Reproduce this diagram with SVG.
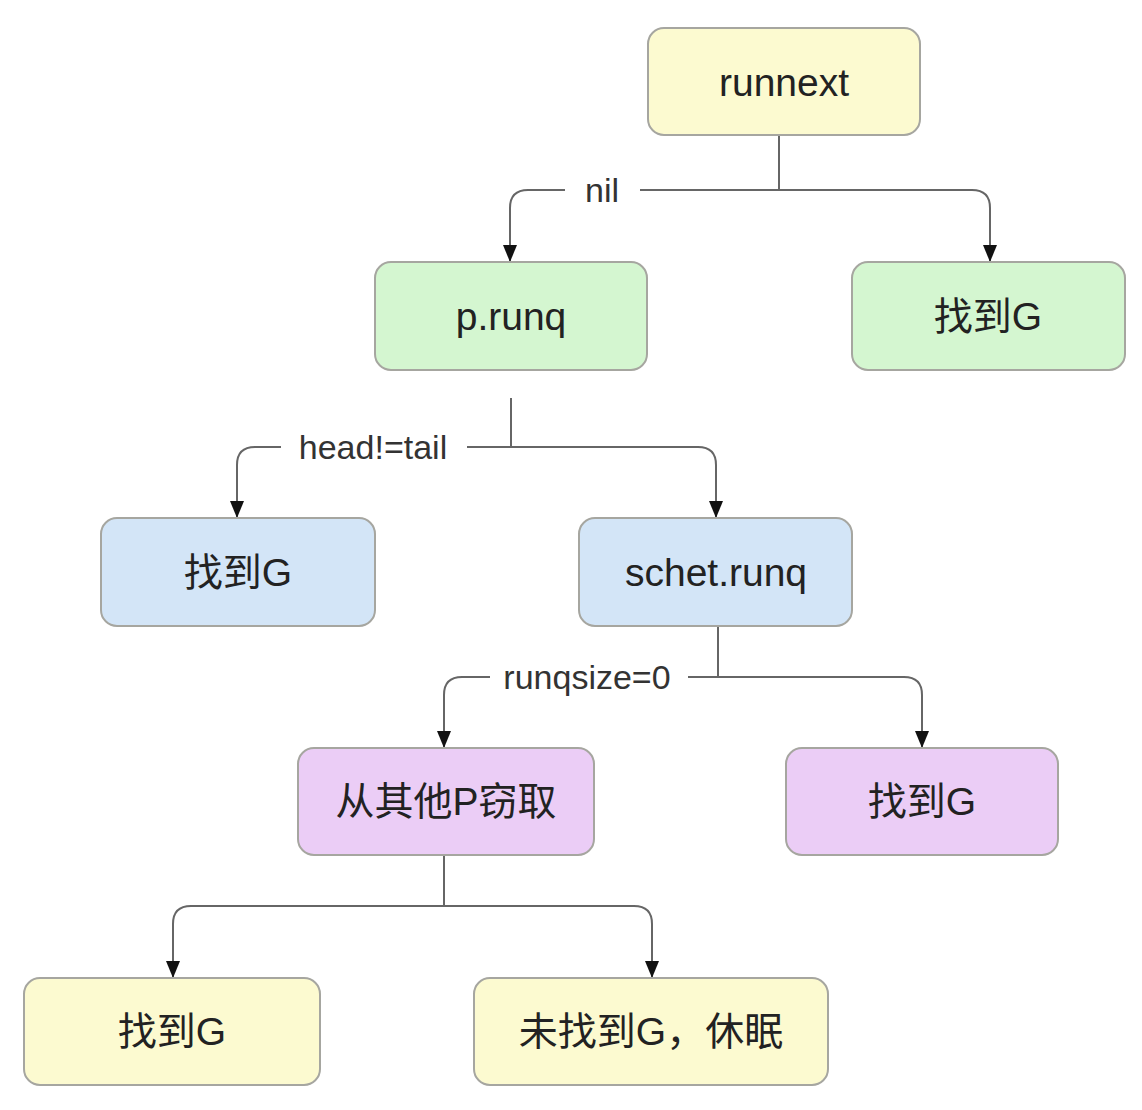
<svg xmlns="http://www.w3.org/2000/svg" width="1142" height="1110" viewBox="0 0 1142 1110">
<defs>
<style>
.box{stroke:#a6a6a0;stroke-width:2}
.yellow{fill:#fcfad0}
.green{fill:#d4f6d0}
.blue{fill:#d3e5f7}
.purple{fill:#ebcdf6}
.t{font-family:"Liberation Sans","Noto Sans CJK SC",sans-serif;font-size:39px;fill:#222;text-anchor:middle;dominant-baseline:central}
.lbl{font-family:"Liberation Sans","Noto Sans CJK SC",sans-serif;font-size:34px;fill:#333;text-anchor:middle;dominant-baseline:central}
.c{fill:none;stroke:#666;stroke-width:2}
.bg{fill:#fff}
</style>
<marker id="arr" markerUnits="userSpaceOnUse" markerWidth="18" markerHeight="16" refX="17" refY="8" orient="auto" viewBox="0 0 18 16">
<path d="M0,1 L17,8 L0,15 Z" fill="#111"/>
</marker>
</defs>
<rect width="1142" height="1110" fill="#fff"/>
<g id="connectors">
<path class="c" d="M779,135 V190"/>
<path class="c" d="M779,190 H528 Q510,190 510,208 V262" marker-end="url(#arr)"/>
<path class="c" d="M779,190 H972 Q990,190 990,208 V262" marker-end="url(#arr)"/>
<rect class="bg" x="565" y="172" width="75" height="36"/>
<text class="lbl" x="602" y="190">nil</text>

<path class="c" d="M511,398 V447"/>
<path class="c" d="M511,447 H255 Q237,447 237,465 V518" marker-end="url(#arr)"/>
<path class="c" d="M511,447 H698 Q716,447 716,465 V518" marker-end="url(#arr)"/>
<rect class="bg" x="281" y="429" width="186" height="36"/>
<text class="lbl" x="373" y="447">head!=tail</text>

<path class="c" d="M718,626 V677"/>
<path class="c" d="M718,677 H462 Q444,677 444,695 V748" marker-end="url(#arr)"/>
<path class="c" d="M718,677 H904 Q922,677 922,695 V748" marker-end="url(#arr)"/>
<rect class="bg" x="490" y="659" width="198" height="36"/>
<text class="lbl" x="587" y="677">runqsize=0</text>

<path class="c" d="M444,855 V906"/>
<path class="c" d="M444,906 H191 Q173,906 173,924 V978" marker-end="url(#arr)"/>
<path class="c" d="M444,906 H634 Q652,906 652,924 V978" marker-end="url(#arr)"/>
</g>
<g id="n-runnext">
<rect class="box yellow" x="648" y="28" width="272" height="107" rx="16"/>
<text class="t" x="784" y="82">runnext</text>
</g>
<g id="n-prunq">
<rect class="box green" x="375" y="262" width="272" height="108" rx="16"/>
<text class="t" x="511" y="316">p.runq</text>
</g>
<g id="n-found1">
<rect class="box green" x="852" y="262" width="273" height="108" rx="16"/>
<text class="t" x="988" y="316">找到G</text>
</g>
<g id="n-found2">
<rect class="box blue" x="101" y="518" width="274" height="108" rx="16"/>
<text class="t" x="238" y="572">找到G</text>
</g>
<g id="n-schet">
<rect class="box blue" x="579" y="518" width="273" height="108" rx="16"/>
<text class="t" x="716" y="572">schet.runq</text>
</g>
<g id="n-steal">
<rect class="box purple" x="298" y="748" width="296" height="107" rx="16"/>
<text class="t" x="446" y="801">从其他P窃取</text>
</g>
<g id="n-found3">
<rect class="box purple" x="786" y="748" width="272" height="107" rx="16"/>
<text class="t" x="922" y="801">找到G</text>
</g>
<g id="n-found4">
<rect class="box yellow" x="24" y="978" width="296" height="107" rx="16"/>
<text class="t" x="172" y="1031">找到G</text>
</g>
<g id="n-sleep">
<rect class="box yellow" x="474" y="978" width="354" height="107" rx="16"/>
<text class="t" x="651" y="1031">未找到G，休眠</text>
</g>
</svg>
